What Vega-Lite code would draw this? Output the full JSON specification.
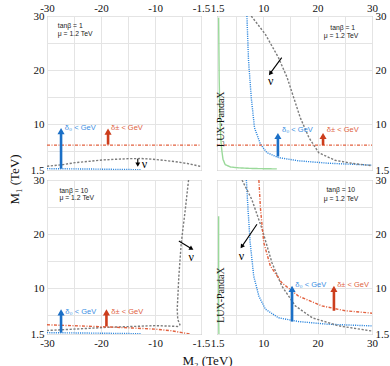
{
 "$schema": "https://vega.github.io/schema/vega-lite/v6.json",
 "padding": {"left": 7, "top": 1, "right": 0, "bottom": 0},
 "background": "white",
 "config": {
  "font": "Liberation Serif",
  "view": {"stroke": "#9a9a9a", "strokeWidth": 1},
  "axis": {"grid": true, "gridColor": "#e4e4e4", "gridWidth": 1, "ticks": false, "domain": false,
   "labelFont": "Liberation Serif", "labelFontSize": 11, "labelColor": "#111", "labelFlush": false,
   "labelOverlap": false, "labelBound": false, "labelPadding": 3,
   "titleFont": "Liberation Serif", "titleFontSize": 13, "titleFontWeight": "normal", "titleColor": "#111"}
 },
 "datasets": {
  "curves": [
   {"p":"TL","s":"nu","o":1,"x":-30,"y":2.2},{"p":"TL","s":"nu","o":2,"x":-27,"y":2.5},{"p":"TL","s":"nu","o":3,"x":-24.8,"y":2.86},{"p":"TL","s":"nu","o":4,"x":-22,"y":3.12},{"p":"TL","s":"nu","o":5,"x":-19.8,"y":3.35},{"p":"TL","s":"nu","o":6,"x":-17,"y":3.5},{"p":"TL","s":"nu","o":7,"x":-14.9,"y":3.6},{"p":"TL","s":"nu","o":8,"x":-12.5,"y":3.62},{"p":"TL","s":"nu","o":9,"x":-10.6,"y":3.5},{"p":"TL","s":"nu","o":10,"x":-8.5,"y":3.3},{"p":"TL","s":"nu","o":11,"x":-6.3,"y":3.05},{"p":"TL","s":"nu","o":12,"x":-4,"y":2.7},{"p":"TL","s":"nu","o":13,"x":-1.9,"y":2.24},{"p":"TL","s":"nu","o":14,"x":-1.5,"y":2.15},
   {"p":"TL","s":"blue","o":1,"x":-30,"y":1.75},{"p":"TL","s":"blue","o":2,"x":-22,"y":1.68},{"p":"TL","s":"blue","o":3,"x":-16,"y":1.6},{"p":"TL","s":"blue","o":4,"x":-12.5,"y":1.55},
   {"p":"TL","s":"red","o":1,"x":-30,"y":6.1},{"p":"TL","s":"red","o":2,"x":-1.5,"y":6.1},
   {"p":"TR","s":"green","o":1,"x":1.8,"y":29.7},{"p":"TR","s":"green","o":2,"x":1.85,"y":24},{"p":"TR","s":"green","o":3,"x":1.9,"y":18.6},{"p":"TR","s":"green","o":4,"x":2.0,"y":13},{"p":"TR","s":"green","o":5,"x":2.1,"y":9.3},{"p":"TR","s":"green","o":6,"x":2.25,"y":6.5},{"p":"TR","s":"green","o":7,"x":2.4,"y":5},{"p":"TR","s":"green","o":8,"x":2.6,"y":3.5},{"p":"TR","s":"green","o":9,"x":3.0,"y":2.5},{"p":"TR","s":"green","o":10,"x":4,"y":2.05},{"p":"TR","s":"green","o":11,"x":5.5,"y":1.9},{"p":"TR","s":"green","o":12,"x":8,"y":1.78},{"p":"TR","s":"green","o":13,"x":12.5,"y":1.7},
   {"p":"TR","s":"blue","o":1,"x":7.0,"y":30},{"p":"TR","s":"blue","o":2,"x":7.3,"y":21.7},{"p":"TR","s":"blue","o":3,"x":7.8,"y":14.9},{"p":"TR","s":"blue","o":4,"x":8.4,"y":9.3},{"p":"TR","s":"blue","o":5,"x":9.5,"y":6.25},{"p":"TR","s":"blue","o":6,"x":10.7,"y":4.7},{"p":"TR","s":"blue","o":7,"x":12.8,"y":3.8},{"p":"TR","s":"blue","o":8,"x":16.5,"y":3.2},{"p":"TR","s":"blue","o":9,"x":22,"y":2.75},{"p":"TR","s":"blue","o":10,"x":30,"y":2.4},
   {"p":"TR","s":"nu","o":1,"x":7.8,"y":30},{"p":"TR","s":"nu","o":2,"x":10.4,"y":26.6},{"p":"TR","s":"nu","o":3,"x":12.8,"y":22.3},{"p":"TR","s":"nu","o":4,"x":14.4,"y":18.6},{"p":"TR","s":"nu","o":5,"x":15.6,"y":14.9},{"p":"TR","s":"nu","o":6,"x":16.8,"y":11.2},{"p":"TR","s":"nu","o":7,"x":18.4,"y":7.5},{"p":"TR","s":"nu","o":8,"x":20.2,"y":4.7},{"p":"TR","s":"nu","o":9,"x":23.2,"y":3.3},{"p":"TR","s":"nu","o":10,"x":26.5,"y":2.7},{"p":"TR","s":"nu","o":11,"x":30,"y":2.3},
   {"p":"TR","s":"red","o":1,"x":1.5,"y":6.1},{"p":"TR","s":"red","o":2,"x":30,"y":6.1},
   {"p":"BL","s":"nu","o":1,"x":-3.8,"y":30},{"p":"BL","s":"nu","o":2,"x":-4.4,"y":24.6},{"p":"BL","s":"nu","o":3,"x":-5.15,"y":18.4},{"p":"BL","s":"nu","o":4,"x":-5.6,"y":12.2},{"p":"BL","s":"nu","o":5,"x":-5.9,"y":6.1},{"p":"BL","s":"nu","o":6,"x":-5.8,"y":4.2},{"p":"BL","s":"nu","o":7,"x":-5.4,"y":3.2},{"p":"BL","s":"nu","o":8,"x":-5.8,"y":2.9},{"p":"BL","s":"nu","o":9,"x":-7,"y":2.95},{"p":"BL","s":"nu","o":10,"x":-10,"y":3.05},{"p":"BL","s":"nu","o":11,"x":-14,"y":2.9},{"p":"BL","s":"nu","o":12,"x":-18.6,"y":2.75},{"p":"BL","s":"nu","o":13,"x":-24,"y":2.45},{"p":"BL","s":"nu","o":14,"x":-30,"y":2.15},
   {"p":"BL","s":"red","o":1,"x":-30,"y":3.2},{"p":"BL","s":"red","o":2,"x":-24,"y":3.0},{"p":"BL","s":"red","o":3,"x":-18.6,"y":2.8},{"p":"BL","s":"red","o":4,"x":-14,"y":2.6},{"p":"BL","s":"red","o":5,"x":-10,"y":2.4},{"p":"BL","s":"red","o":6,"x":-7,"y":2.1},{"p":"BL","s":"red","o":7,"x":-5,"y":1.75},{"p":"BL","s":"red","o":8,"x":-3.5,"y":1.5},
   {"p":"BL","s":"blue","o":1,"x":-30,"y":1.75},{"p":"BL","s":"blue","o":2,"x":-20,"y":1.65},{"p":"BL","s":"blue","o":3,"x":-12.5,"y":1.55},
   {"p":"BR","s":"green","o":1,"x":1.8,"y":23.3},{"p":"BR","s":"green","o":2,"x":1.8,"y":5},{"p":"BR","s":"green","o":3,"x":1.85,"y":1.5},
   {"p":"BR","s":"blue","o":1,"x":6.9,"y":30},{"p":"BR","s":"blue","o":2,"x":7.2,"y":24.6},{"p":"BR","s":"blue","o":3,"x":7.6,"y":18.4},{"p":"BR","s":"blue","o":4,"x":8.25,"y":12.2},{"p":"BR","s":"blue","o":5,"x":9.2,"y":8.5},{"p":"BR","s":"blue","o":6,"x":10.4,"y":6.1},{"p":"BR","s":"blue","o":7,"x":12.8,"y":4.5},{"p":"BR","s":"blue","o":8,"x":16.5,"y":3.8},{"p":"BR","s":"blue","o":9,"x":22,"y":3.3},{"p":"BR","s":"blue","o":10,"x":30,"y":3.0},
   {"p":"BR","s":"nu","o":1,"x":6.1,"y":30},{"p":"BR","s":"nu","o":2,"x":7.9,"y":26.4},{"p":"BR","s":"nu","o":3,"x":9.8,"y":20.9},{"p":"BR","s":"nu","o":4,"x":11.6,"y":14.7},{"p":"BR","s":"nu","o":5,"x":13.4,"y":10.4},{"p":"BR","s":"nu","o":6,"x":15.9,"y":6.7},{"p":"BR","s":"nu","o":7,"x":19,"y":4.5},{"p":"BR","s":"nu","o":8,"x":23.9,"y":3.0},{"p":"BR","s":"nu","o":9,"x":30,"y":2.05},
   {"p":"BR","s":"red","o":1,"x":9.2,"y":30},{"p":"BR","s":"red","o":2,"x":9.5,"y":24.6},{"p":"BR","s":"red","o":3,"x":10.1,"y":18.4},{"p":"BR","s":"red","o":4,"x":11.3,"y":14.1},{"p":"BR","s":"red","o":5,"x":13.4,"y":11},{"p":"BR","s":"red","o":6,"x":16.5,"y":8.5},{"p":"BR","s":"red","o":7,"x":20.8,"y":6.7},{"p":"BR","s":"red","o":8,"x":25.1,"y":5.8},{"p":"BR","s":"red","o":9,"x":30,"y":5.35}
  ],
  "arrows": [
   {"p":"TL","c":"b","x":-27.4,"y":1.75,"x2":-27.4,"y2":8.7},
   {"p":"TL","c":"r","x":-18.7,"y":6.2,"x2":-18.7,"y2":8.6},
   {"p":"TL","c":"k","x":-13.2,"y":3.6,"x2":-13.2,"y2":2.5},
   {"p":"TR","c":"b","x":12.7,"y":4.0,"x2":12.7,"y2":7.8},
   {"p":"TR","c":"r","x":21,"y":6.1,"x2":21,"y2":7.8},
   {"p":"TR","c":"k","x":13.4,"y":22.3,"x2":11.28,"y2":19.37},
   {"p":"BL","c":"b","x":-27.4,"y":1.75,"x2":-27.4,"y2":5.5},
   {"p":"BL","c":"r","x":-19,"y":2.9,"x2":-19,"y2":5.5},
   {"p":"BL","c":"k","x":-5.6,"y":18.7,"x2":-3.25,"y2":17.29},
   {"p":"BR","c":"b","x":15.3,"y":3.8,"x2":15.3,"y2":9.85},
   {"p":"BR","c":"r","x":23,"y":5.8,"x2":23,"y2":9.85},
   {"p":"BR","c":"k","x":8.85,"y":21.8,"x2":6.06,"y2":17.68}
  ],
  "heads": [
   {"p":"TL","c":"b","x":-27.4,"y":8.7,"a":0},{"p":"TL","c":"r","x":-18.7,"y":8.6,"a":0},{"p":"TL","c":"k","x":-13.2,"y":2.5,"a":180},
   {"p":"TR","c":"b","x":12.7,"y":7.8,"a":0},{"p":"TR","c":"r","x":21,"y":7.8,"a":0},{"p":"TR","c":"k","x":11.28,"y":19.37,"a":217},
   {"p":"BL","c":"b","x":-27.4,"y":5.5,"a":0},{"p":"BL","c":"r","x":-19,"y":5.5,"a":0},{"p":"BL","c":"k","x":-3.25,"y":17.29,"a":121},
   {"p":"BR","c":"b","x":15.3,"y":9.85,"a":0},{"p":"BR","c":"r","x":23,"y":9.85,"a":0},{"p":"BR","c":"k","x":6.06,"y":17.68,"a":214}
  ],
  "texts": [
   {"p":"TL","k":"i","t":"tanβ = 1","x":-28,"y":28.15},{"p":"TL","k":"i","t":"μ = 1.2 TeV","x":-28,"y":26.6},
   {"p":"TL","k":"db","t":"δ₀ < GeV","x":-26.7,"y":9.2},{"p":"TL","k":"dr","t":"δ± < GeV","x":-18.15,"y":9.2},
   {"p":"TL","k":"nu","t":"ν","x":-11.96,"y":2.61},
   {"p":"TR","k":"i","t":"tanβ = 1","x":26.9,"y":27.8},{"p":"TR","k":"i","t":"μ = 1.2 TeV","x":27.5,"y":26.3},
   {"p":"TR","k":"db","t":"δ₀ < GeV","x":13.45,"y":8.85},{"p":"TR","k":"dr","t":"δ± < GeV","x":21.7,"y":8.85},
   {"p":"TR","k":"nu","t":"ν","x":11.4,"y":17.9},{"p":"TR","k":"lux","t":"LUX-PandaX","x":2.18,"y":10.9},
   {"p":"BL","k":"i","t":"tanβ = 10","x":-27.7,"y":28.0},{"p":"BL","k":"i","t":"μ = 1.2 TeV","x":-27.7,"y":26.6},
   {"p":"BL","k":"db","t":"δ₀ < GeV","x":-26.6,"y":5.63},{"p":"BL","k":"dr","t":"δ± < GeV","x":-18.1,"y":5.63},
   {"p":"BL","k":"nu","t":"ν","x":-3.3,"y":15.8},
   {"p":"BR","k":"i","t":"tanβ = 10","x":26.9,"y":28.15},{"p":"BR","k":"i","t":"μ = 1.2 TeV","x":27.5,"y":26.4},
   {"p":"BR","k":"db","t":"δ₀ < GeV","x":15.9,"y":10.5},{"p":"BR","k":"dr","t":"δ± < GeV","x":23.6,"y":10.5},
   {"p":"BR","k":"nu","t":"ν","x":6.0,"y":15.9},{"p":"BR","k":"lux","t":"LUX-PandaX","x":2.18,"y":8.7}
  ]
 },
 "columns": 2,
 "spacing": {"row": 10, "column": 16},
 "bounds": "flush",
 "resolve": {"scale": {"x": "independent", "y": "independent", "color": "independent", "stroke": "independent", "fill": "independent", "strokeDash": "independent"}},
 "concat": [
  {
   "width": 154, "height": 154,
   "encoding": {
    "x": {"field": "x", "type": "quantitative", "scale": {"domain": [-30, -1.5], "nice": false, "zero": false},
     "axis": {"orient": "top", "title": null, "values": [-30, -25, -20, -15, -10, -5, -1.5], "labelExpr": "(abs(datum.value) % 10 === 0 || abs(datum.value) === 1.5) ? (datum.value < 0 ? '-' : '') + abs(datum.value) : ''"}},
    "y": {"field": "y", "type": "quantitative", "scale": {"domain": [1.5, 30], "nice": false, "zero": false},
     "axis": {"orient": "left", "title": "M₁  (TeV)", "titleY": 163, "titleAlign": "center", "titlePadding": 9, "values": [1.5, 5, 10, 15, 20, 25, 30], "labelExpr": "(datum.value % 10 === 0 || datum.value === 1.5) ? '' + datum.value : ''"}}
   },
   "resolve": {"scale": {"color": "independent", "stroke": "independent", "fill": "independent"}},
   "layer": [
    {"data": {"name": "curves"}, "transform": [{"filter": "datum.p === 'TL'"}], "mark": {"type": "line", "clip": true, "strokeWidth": 1.4},
     "encoding": {"color": {"field": "s", "type": "nominal", "scale": {"domain": ["nu", "blue", "red", "green"], "range": ["#7c7c7c", "#2b86de", "#e2603e", "#9ad99a"]}, "legend": null},
      "strokeDash": {"field": "s", "type": "nominal", "scale": {"domain": ["nu", "blue", "red", "green"], "range": [[2.2, 1.6], [1.1, 1.1], [3, 1.5, 1, 1.5], [1, 0]]}, "legend": null},
      "order": {"field": "o", "type": "quantitative"}}},
    {"data": {"name": "arrows"}, "transform": [{"filter": "datum.p === 'TL' && datum.c !== 'k'"}], "mark": {"type": "rule", "strokeWidth": 2.6},
     "encoding": {"x2": {"field": "x2"}, "y2": {"field": "y2"}, "stroke": {"field": "c", "type": "nominal", "scale": {"domain": ["b", "r"], "range": ["#1b6fc6", "#cc3d1c"]}, "legend": null}}},
    {"data": {"name": "arrows"}, "transform": [{"filter": "datum.p === 'TL' && datum.c === 'k'"}], "mark": {"type": "rule", "strokeWidth": 1.1, "color": "#000"},
     "encoding": {"x2": {"field": "x2"}, "y2": {"field": "y2"}}},
    {"data": {"name": "heads"}, "transform": [{"filter": "datum.p === 'TL' && datum.c !== 'k'"}], "mark": {"type": "point", "shape": "triangle-up", "filled": true, "size": 50, "opacity": 1, "strokeWidth": 0},
     "encoding": {"fill": {"field": "c", "type": "nominal", "scale": {"domain": ["b", "r"], "range": ["#1b6fc6", "#cc3d1c"]}, "legend": null}}},
    {"data": {"name": "heads"}, "transform": [{"filter": "datum.p === 'TL' && datum.c === 'k'"}], "mark": {"type": "point", "shape": "triangle-up", "filled": true, "size": 24, "opacity": 1, "strokeWidth": 0, "color": "#000"},
     "encoding": {"angle": {"field": "a", "type": "quantitative", "scale": null}}},
    {"data": {"name": "texts"}, "transform": [{"filter": "datum.p === 'TL' && datum.k === 'i'"}], "mark": {"type": "text", "font": "Liberation Sans", "fontSize": 6.8, "align": "left", "baseline": "middle", "color": "#222"},
     "encoding": {"text": {"field": "t"}}},
    {"data": {"name": "texts"}, "transform": [{"filter": "datum.p === 'TL' && (datum.k === 'db' || datum.k === 'dr')"}], "mark": {"type": "text", "font": "Liberation Sans", "fontSize": 7.5, "align": "left", "baseline": "middle"},
     "encoding": {"text": {"field": "t"}, "color": {"field": "k", "type": "nominal", "scale": {"domain": ["db", "dr"], "range": ["#3b8fe3", "#e0633f"]}, "legend": null}}},
    {"data": {"name": "texts"}, "transform": [{"filter": "datum.p === 'TL' && datum.k === 'nu'"}], "mark": {"type": "text", "font": "Liberation Serif", "fontSize": 12, "align": "center", "baseline": "middle", "color": "#000"},
     "encoding": {"text": {"field": "t"}}}
   ]
  },
  {
   "width": 155, "height": 154,
   "encoding": {
    "x": {"field": "x", "type": "quantitative", "scale": {"domain": [1.5, 30], "nice": false, "zero": false},
     "axis": {"orient": "top", "title": null, "values": [1.5, 5, 10, 15, 20, 25, 30], "labelExpr": "(datum.value % 10 === 0 || datum.value === 1.5) ? '' + datum.value : ''"}},
    "y": {"field": "y", "type": "quantitative", "scale": {"domain": [1.5, 30], "nice": false, "zero": false},
     "axis": {"orient": "right", "title": null, "values": [1.5, 5, 10, 15, 20, 25, 30], "labelExpr": "(datum.value % 10 === 0 || datum.value === 1.5) ? '' + datum.value : ''"}}
   },
   "resolve": {"scale": {"color": "independent", "stroke": "independent", "fill": "independent"}},
   "layer": [
    {"data": {"name": "curves"}, "transform": [{"filter": "datum.p === 'TR'"}], "mark": {"type": "line", "clip": true, "strokeWidth": 1.4},
     "encoding": {"color": {"field": "s", "type": "nominal", "scale": {"domain": ["nu", "blue", "red", "green"], "range": ["#7c7c7c", "#2b86de", "#e2603e", "#9ad99a"]}, "legend": null},
      "strokeDash": {"field": "s", "type": "nominal", "scale": {"domain": ["nu", "blue", "red", "green"], "range": [[2.2, 1.6], [1.1, 1.1], [3, 1.5, 1, 1.5], [1, 0]]}, "legend": null},
      "order": {"field": "o", "type": "quantitative"}}},
    {"data": {"name": "arrows"}, "transform": [{"filter": "datum.p === 'TR' && datum.c !== 'k'"}], "mark": {"type": "rule", "strokeWidth": 2.6},
     "encoding": {"x2": {"field": "x2"}, "y2": {"field": "y2"}, "stroke": {"field": "c", "type": "nominal", "scale": {"domain": ["b", "r"], "range": ["#1b6fc6", "#cc3d1c"]}, "legend": null}}},
    {"data": {"name": "arrows"}, "transform": [{"filter": "datum.p === 'TR' && datum.c === 'k'"}], "mark": {"type": "rule", "strokeWidth": 1.1, "color": "#000"},
     "encoding": {"x2": {"field": "x2"}, "y2": {"field": "y2"}}},
    {"data": {"name": "heads"}, "transform": [{"filter": "datum.p === 'TR' && datum.c !== 'k'"}], "mark": {"type": "point", "shape": "triangle-up", "filled": true, "size": 50, "opacity": 1, "strokeWidth": 0},
     "encoding": {"fill": {"field": "c", "type": "nominal", "scale": {"domain": ["b", "r"], "range": ["#1b6fc6", "#cc3d1c"]}, "legend": null}}},
    {"data": {"name": "heads"}, "transform": [{"filter": "datum.p === 'TR' && datum.c === 'k'"}], "mark": {"type": "point", "shape": "triangle-up", "filled": true, "size": 24, "opacity": 1, "strokeWidth": 0, "color": "#000"},
     "encoding": {"angle": {"field": "a", "type": "quantitative", "scale": null}}},
    {"data": {"name": "texts"}, "transform": [{"filter": "datum.p === 'TR' && datum.k === 'i'"}], "mark": {"type": "text", "font": "Liberation Sans", "fontSize": 6.8, "align": "right", "baseline": "middle", "color": "#222"},
     "encoding": {"text": {"field": "t"}}},
    {"data": {"name": "texts"}, "transform": [{"filter": "datum.p === 'TR' && (datum.k === 'db' || datum.k === 'dr')"}], "mark": {"type": "text", "font": "Liberation Sans", "fontSize": 7.5, "align": "left", "baseline": "middle"},
     "encoding": {"text": {"field": "t"}, "color": {"field": "k", "type": "nominal", "scale": {"domain": ["db", "dr"], "range": ["#3b8fe3", "#e0633f"]}, "legend": null}}},
    {"data": {"name": "texts"}, "transform": [{"filter": "datum.p === 'TR' && datum.k === 'nu'"}], "mark": {"type": "text", "font": "Liberation Serif", "fontSize": 12, "align": "center", "baseline": "middle", "color": "#000"},
     "encoding": {"text": {"field": "t"}}},
    {"data": {"name": "texts"}, "transform": [{"filter": "datum.p === 'TR' && datum.k === 'lux'"}], "mark": {"type": "text", "font": "Liberation Serif", "fontSize": 10, "angle": 270, "align": "center", "baseline": "middle", "color": "#111"},
     "encoding": {"text": {"field": "t"}}}
   ]
  },
  {
   "width": 154, "height": 154,
   "encoding": {
    "x": {"field": "x", "type": "quantitative", "scale": {"domain": [-30, -1.5], "nice": false, "zero": false},
     "axis": {"orient": "bottom", "title": "M₂  (TeV)", "titleX": 160, "titleAlign": "center", "titlePadding": 6, "values": [-30, -25, -20, -15, -10, -5, -1.5], "labelExpr": "(abs(datum.value) % 10 === 0 || abs(datum.value) === 1.5) ? (datum.value < 0 ? '-' : '') + abs(datum.value) : ''"}},
    "y": {"field": "y", "type": "quantitative", "scale": {"domain": [1.5, 30], "nice": false, "zero": false},
     "axis": {"orient": "left", "title": null, "values": [1.5, 5, 10, 15, 20, 25, 30], "labelExpr": "(datum.value % 10 === 0 || datum.value === 1.5) ? '' + datum.value : ''"}}
   },
   "resolve": {"scale": {"color": "independent", "stroke": "independent", "fill": "independent"}},
   "layer": [
    {"data": {"name": "curves"}, "transform": [{"filter": "datum.p === 'BL'"}], "mark": {"type": "line", "clip": true, "strokeWidth": 1.4},
     "encoding": {"color": {"field": "s", "type": "nominal", "scale": {"domain": ["nu", "blue", "red", "green"], "range": ["#7c7c7c", "#2b86de", "#e2603e", "#9ad99a"]}, "legend": null},
      "strokeDash": {"field": "s", "type": "nominal", "scale": {"domain": ["nu", "blue", "red", "green"], "range": [[2.2, 1.6], [1.1, 1.1], [3, 1.5, 1, 1.5], [1, 0]]}, "legend": null},
      "order": {"field": "o", "type": "quantitative"}}},
    {"data": {"name": "arrows"}, "transform": [{"filter": "datum.p === 'BL' && datum.c !== 'k'"}], "mark": {"type": "rule", "strokeWidth": 2.6},
     "encoding": {"x2": {"field": "x2"}, "y2": {"field": "y2"}, "stroke": {"field": "c", "type": "nominal", "scale": {"domain": ["b", "r"], "range": ["#1b6fc6", "#cc3d1c"]}, "legend": null}}},
    {"data": {"name": "arrows"}, "transform": [{"filter": "datum.p === 'BL' && datum.c === 'k'"}], "mark": {"type": "rule", "strokeWidth": 1.1, "color": "#000"},
     "encoding": {"x2": {"field": "x2"}, "y2": {"field": "y2"}}},
    {"data": {"name": "heads"}, "transform": [{"filter": "datum.p === 'BL' && datum.c !== 'k'"}], "mark": {"type": "point", "shape": "triangle-up", "filled": true, "size": 50, "opacity": 1, "strokeWidth": 0},
     "encoding": {"fill": {"field": "c", "type": "nominal", "scale": {"domain": ["b", "r"], "range": ["#1b6fc6", "#cc3d1c"]}, "legend": null}}},
    {"data": {"name": "heads"}, "transform": [{"filter": "datum.p === 'BL' && datum.c === 'k'"}], "mark": {"type": "point", "shape": "triangle-up", "filled": true, "size": 24, "opacity": 1, "strokeWidth": 0, "color": "#000"},
     "encoding": {"angle": {"field": "a", "type": "quantitative", "scale": null}}},
    {"data": {"name": "texts"}, "transform": [{"filter": "datum.p === 'BL' && datum.k === 'i'"}], "mark": {"type": "text", "font": "Liberation Sans", "fontSize": 6.8, "align": "left", "baseline": "middle", "color": "#222"},
     "encoding": {"text": {"field": "t"}}},
    {"data": {"name": "texts"}, "transform": [{"filter": "datum.p === 'BL' && (datum.k === 'db' || datum.k === 'dr')"}], "mark": {"type": "text", "font": "Liberation Sans", "fontSize": 7.5, "align": "left", "baseline": "middle"},
     "encoding": {"text": {"field": "t"}, "color": {"field": "k", "type": "nominal", "scale": {"domain": ["db", "dr"], "range": ["#3b8fe3", "#e0633f"]}, "legend": null}}},
    {"data": {"name": "texts"}, "transform": [{"filter": "datum.p === 'BL' && datum.k === 'nu'"}], "mark": {"type": "text", "font": "Liberation Serif", "fontSize": 12, "align": "center", "baseline": "middle", "color": "#000"},
     "encoding": {"text": {"field": "t"}}}
   ]
  },
  {
   "width": 155, "height": 154,
   "encoding": {
    "x": {"field": "x", "type": "quantitative", "scale": {"domain": [1.5, 30], "nice": false, "zero": false},
     "axis": {"orient": "bottom", "title": null, "values": [1.5, 5, 10, 15, 20, 25, 30], "labelExpr": "(datum.value % 10 === 0 || datum.value === 1.5) ? '' + datum.value : ''"}},
    "y": {"field": "y", "type": "quantitative", "scale": {"domain": [1.5, 30], "nice": false, "zero": false},
     "axis": {"orient": "right", "title": null, "values": [1.5, 5, 10, 15, 20, 25, 30], "labelExpr": "(datum.value % 10 === 0 || datum.value === 1.5) ? '' + datum.value : ''"}}
   },
   "resolve": {"scale": {"color": "independent", "stroke": "independent", "fill": "independent"}},
   "layer": [
    {"data": {"name": "curves"}, "transform": [{"filter": "datum.p === 'BR'"}], "mark": {"type": "line", "clip": true, "strokeWidth": 1.4},
     "encoding": {"color": {"field": "s", "type": "nominal", "scale": {"domain": ["nu", "blue", "red", "green"], "range": ["#7c7c7c", "#2b86de", "#e2603e", "#9ad99a"]}, "legend": null},
      "strokeDash": {"field": "s", "type": "nominal", "scale": {"domain": ["nu", "blue", "red", "green"], "range": [[2.2, 1.6], [1.1, 1.1], [3, 1.5, 1, 1.5], [1, 0]]}, "legend": null},
      "order": {"field": "o", "type": "quantitative"}}},
    {"data": {"name": "arrows"}, "transform": [{"filter": "datum.p === 'BR' && datum.c !== 'k'"}], "mark": {"type": "rule", "strokeWidth": 2.6},
     "encoding": {"x2": {"field": "x2"}, "y2": {"field": "y2"}, "stroke": {"field": "c", "type": "nominal", "scale": {"domain": ["b", "r"], "range": ["#1b6fc6", "#cc3d1c"]}, "legend": null}}},
    {"data": {"name": "arrows"}, "transform": [{"filter": "datum.p === 'BR' && datum.c === 'k'"}], "mark": {"type": "rule", "strokeWidth": 1.1, "color": "#000"},
     "encoding": {"x2": {"field": "x2"}, "y2": {"field": "y2"}}},
    {"data": {"name": "heads"}, "transform": [{"filter": "datum.p === 'BR' && datum.c !== 'k'"}], "mark": {"type": "point", "shape": "triangle-up", "filled": true, "size": 50, "opacity": 1, "strokeWidth": 0},
     "encoding": {"fill": {"field": "c", "type": "nominal", "scale": {"domain": ["b", "r"], "range": ["#1b6fc6", "#cc3d1c"]}, "legend": null}}},
    {"data": {"name": "heads"}, "transform": [{"filter": "datum.p === 'BR' && datum.c === 'k'"}], "mark": {"type": "point", "shape": "triangle-up", "filled": true, "size": 24, "opacity": 1, "strokeWidth": 0, "color": "#000"},
     "encoding": {"angle": {"field": "a", "type": "quantitative", "scale": null}}},
    {"data": {"name": "texts"}, "transform": [{"filter": "datum.p === 'BR' && datum.k === 'i'"}], "mark": {"type": "text", "font": "Liberation Sans", "fontSize": 6.8, "align": "right", "baseline": "middle", "color": "#222"},
     "encoding": {"text": {"field": "t"}}},
    {"data": {"name": "texts"}, "transform": [{"filter": "datum.p === 'BR' && (datum.k === 'db' || datum.k === 'dr')"}], "mark": {"type": "text", "font": "Liberation Sans", "fontSize": 7.5, "align": "left", "baseline": "middle"},
     "encoding": {"text": {"field": "t"}, "color": {"field": "k", "type": "nominal", "scale": {"domain": ["db", "dr"], "range": ["#3b8fe3", "#e0633f"]}, "legend": null}}},
    {"data": {"name": "texts"}, "transform": [{"filter": "datum.p === 'BR' && datum.k === 'nu'"}], "mark": {"type": "text", "font": "Liberation Serif", "fontSize": 12, "align": "center", "baseline": "middle", "color": "#000"},
     "encoding": {"text": {"field": "t"}}},
    {"data": {"name": "texts"}, "transform": [{"filter": "datum.p === 'BR' && datum.k === 'lux'"}], "mark": {"type": "text", "font": "Liberation Serif", "fontSize": 10, "angle": 270, "align": "center", "baseline": "middle", "color": "#111"},
     "encoding": {"text": {"field": "t"}}}
   ]
  }
 ]
}
